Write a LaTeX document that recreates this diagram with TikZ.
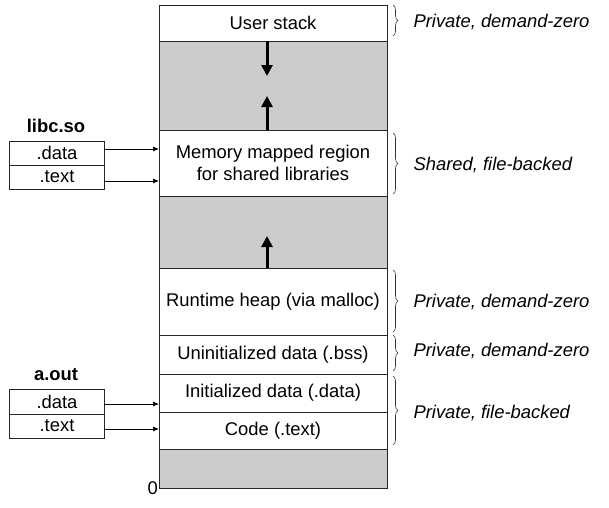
\documentclass[tikz,border=0pt]{standalone}
\usepackage{fontspec}
\setmainfont{Liberation Sans}
\usetikzlibrary{arrows.meta,decorations.pathreplacing}
\begin{document}
\begin{tikzpicture}[x=1pt,y=-1pt,
  every node/.style={font=\fontsize{18.4}{22.5}\selectfont},
  seg/.style={draw=black!85,line width=0.9pt,minimum width=228pt,inner sep=0pt,outer sep=0pt,align=center},
  gapseg/.style={seg,fill=black!20},
  objbox/.style={draw=black!85,line width=0.9pt,minimum width=95pt,minimum height=24pt,inner sep=0pt,outer sep=0pt},
  ptr/.style={line width=0.8pt,-{Latex[length=6pt,width=5pt]}},
  growarrow/.style={line width=3pt,-{Triangle[length=11pt,width=11pt]}},
  brc/.style={draw=black!80,line width=0.6pt,decorate,decoration={brace,amplitude=5pt}},
  lbl/.style={anchor=west,font=\fontsize{18.4}{21}\selectfont\itshape}]
\useasboundingbox (0,0) rectangle (609,507);
% main column
\node[gapseg,minimum height=89pt] (gap1) at (273,85.5) {};
\node[gapseg,minimum height=72pt] (gap2) at (273,232) {};
\node[gapseg,minimum height=39pt] (gap3) at (273,468.5) {};
\node[seg,minimum height=36pt] (stack) at (273,23) {User stack};
\node[seg,minimum height=66pt] (mmap) at (273,163) {Memory mapped region\\for shared libraries};
\node[seg,minimum height=67pt] (heap) at (273,301.5) {Runtime heap (via malloc)};
\node[seg,minimum height=39pt] (bss) at (273,354.5) {Uninitialized data (.bss)};
\node[seg,minimum height=38pt] (data) at (273,393) {Initialized data (.data)};
\node[seg,minimum height=37pt] (code) at (273,430.5) {Code (.text)};
\node[anchor=east,inner sep=1pt] (zero) at (gap3.south west) {0};
% growth arrows
\coordinate (sdown) at (267,76);
\coordinate (mup) at (267,96);
\coordinate (hup) at (267,236);
\draw[growarrow] (267,41) -- (sdown);
\draw[growarrow] (267,130) -- (mup);
\draw[growarrow] (267,268) -- (hup);
% libc.so
\node[font=\fontsize{18.4}{21}\selectfont\bfseries] (libc) at (56,126) {libc.so};
\node[objbox] (ldata) at (57,153) {.data};
\node[objbox] (ltext) at (57,177) {.text};
\draw[ptr] (ldata.east |- 0,149) -- (mmap.west |- 0,149);
\draw[ptr] (ltext.east |- 0,181) -- (mmap.west |- 0,181);
% a.out
\node[font=\fontsize{18.4}{21}\selectfont\bfseries] (aout) at (56,375) {a.out};
\node[objbox,minimum height=25pt] (adata) at (57,401.5) {.data};
\node[objbox] (atext) at (57,426) {.text};
\draw[ptr] (adata.east |- 0,404) -- (data.west |- 0,404);
\draw[ptr] (atext.east |- 0,429) -- (code.west |- 0,429);
% braces
\draw[brc] (393,5) -- (393,36);
\node[lbl] (l1) at (410,22) {Private, demand-zero};
\draw[brc] (393,133) -- (393,194);
\node[lbl] (l2) at (410,165) {Shared, file-backed};
\draw[brc] (393,270) -- (393,332);
\node[lbl] (l3) at (410,302) {Private, demand-zero};
\draw[brc] (393,335) -- (393,371);
\node[lbl] (l4) at (410,351) {Private, demand-zero};
\draw[brc] (393,376) -- (393,445);
\node[lbl] (l5) at (410,413) {Private, file-backed};
\end{tikzpicture}
\end{document}
